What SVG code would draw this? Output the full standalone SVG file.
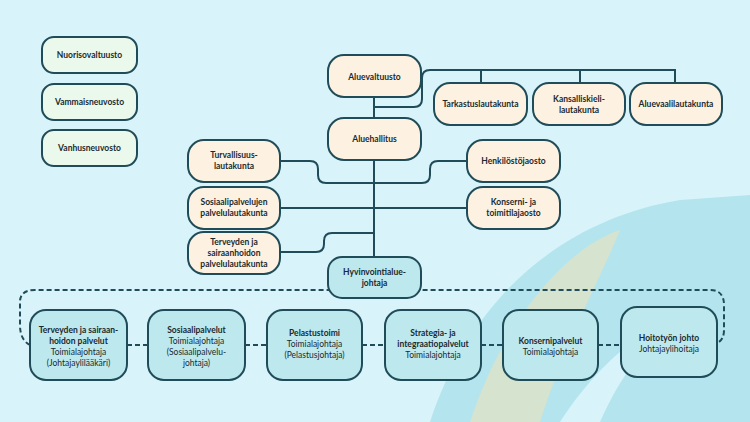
<svg xmlns="http://www.w3.org/2000/svg" width="750" height="422" viewBox="0 0 750 422">
<style>
.n{stroke:#1f4c58;stroke-width:2}
.c{fill:#fdf2e1}
.g{fill:#ebf9ec}
.b{fill:#bde8ee}
.t{font-family:Lato,"Liberation Sans",sans-serif;font-size:8.5px;fill:#1a2a30;text-anchor:middle}
.bd{font-weight:bold}
.l{fill:none;stroke:#1f4c58;stroke-width:2}
.d{fill:none;stroke:#1f4c58;stroke-width:2;stroke-dasharray:5 3}
</style>
<rect width="750" height="422" fill="#d8f4fa"/>
<path d="M430 422 C470 300 560 220 680 200 L750 195 L750 310 C690 300 620 330 560 422 Z" fill="#b4e5ee"/>
<path d="M600 422 C640 330 700 300 750 300 L750 422 Z" fill="#b4e5ee"/>
<path d="M470 422 C500 330 560 250 620 230 C600 280 570 330 540 422 Z" fill="#d9e2cb" opacity="0.9"/>
<g id="connectors">
<path class="l" d="M374 97 V257"/>
<path class="l" d="M374 107 H414 Q422 107 422 99 V78 Q422 70 430 70 H675 V83 M481 70 V83 M580 70 V83"/>
<path class="l" d="M280 161 H310 Q318 161 318 169 V175 Q318 183 326 183 H422 Q430 183 430 175 V169 Q430 161 438 161 H467"/>
<path class="l" d="M280 208 H467"/>
<path class="l" d="M280 252 H316 Q324 252 324 244 V241 Q324 233 332 233 H374"/>
<path class="d" d="M30 345 Q20 340 20 325 V302 Q20 290 35 290 H710 Q724 290 724 305 V330 Q724 340 717 343"/>
<path class="d" d="M127 345 H148 M245 345 H267 M362 345 H385 M481 345 H503 M598 345 H621"/>
</g>
<g id="nuorisovaltuusto"><rect class="n g" x="42" y="37" width="95" height="36" rx="12"/><text class="t bd" x="89.5" y="58">Nuorisovaltuusto</text></g>
<g id="vammaisneuvosto"><rect class="n g" x="42" y="84" width="95" height="36" rx="12"/><text class="t bd" x="89.5" y="105">Vammaisneuvosto</text></g>
<g id="vanhusneuvosto"><rect class="n g" x="42" y="130" width="95" height="36" rx="12"/><text class="t bd" x="89.5" y="151">Vanhusneuvosto</text></g>
<g id="aluevaltuusto"><rect class="n c" x="328" y="55" width="93" height="42" rx="16"/><text class="t bd" x="374.5" y="80">Aluevaltuusto</text></g>
<g id="tarkastus"><rect class="n c" x="434" y="83" width="93" height="42" rx="16"/><text class="t bd" x="480.5" y="107">Tarkastuslautakunta</text></g>
<g id="kansalliskieli"><rect class="n c" x="533" y="83" width="92" height="42" rx="16"/><text class="t bd" x="579" y="102">Kansalliskieli-</text><text class="t bd" x="579" y="113">lautakunta</text></g>
<g id="aluevaali"><rect class="n c" x="630" y="83" width="92" height="42" rx="16"/><text class="t bd" x="676" y="107">Aluevaalilautakunta</text></g>
<g id="aluehallitus"><rect class="n c" x="328" y="118" width="93" height="42" rx="16"/><text class="t bd" x="374.5" y="142">Aluehallitus</text></g>
<g id="turvallisuus"><rect class="n c" x="188" y="140" width="92" height="42" rx="16"/><text class="t bd" x="234" y="158">Turvallisuus-</text><text class="t bd" x="234" y="169">lautakunta</text></g>
<g id="henkilosto"><rect class="n c" x="467" y="140" width="93" height="42" rx="16"/><text class="t bd" x="513.5" y="164">Henkilöstöjaosto</text></g>
<g id="sosiaalilautakunta"><rect class="n c" x="188" y="187" width="92" height="42" rx="16"/><text class="t bd" x="234" y="205">Sosiaalipalvelujen</text><text class="t bd" x="234" y="216">palvelulautakunta</text></g>
<g id="konserni"><rect class="n c" x="467" y="187" width="93" height="42" rx="16"/><text class="t bd" x="513.5" y="205">Konserni- ja</text><text class="t bd" x="513.5" y="216">toimitilajaosto</text></g>
<g id="terveydenlautakunta"><rect class="n c" x="188" y="232" width="92" height="42" rx="16"/><text class="t bd" x="234" y="245">Terveyden ja</text><text class="t bd" x="234" y="256">sairaanhoidon</text><text class="t bd" x="234" y="267">palvelulautakunta</text></g>
<g id="hyvinvointi"><rect class="n b" x="328" y="257" width="93" height="41" rx="14"/><text class="t bd" x="374.5" y="275">Hyvinvointialue-</text><text class="t bd" x="374.5" y="286">johtaja</text></g>
<g id="terveys"><rect class="n b" x="30" y="310" width="97" height="70" rx="16"/><text class="t bd" x="78.5" y="333">Terveyden ja sairaan-</text><text class="t bd" x="78.5" y="344">hoidon palvelut</text><text class="t" x="78.5" y="355">Toimialajohtaja</text><text class="t" x="78.5" y="366">(Johtajaylilääkäri)</text></g>
<g id="sosiaali"><rect class="n b" x="148" y="310" width="97" height="70" rx="16"/><text class="t bd" x="196.5" y="333">Sosiaalipalvelut</text><text class="t" x="196.5" y="344">Toimialajohtaja</text><text class="t" x="196.5" y="355">(Sosiaalipalvelu-</text><text class="t" x="196.5" y="366">johtaja)</text></g>
<g id="pelastus"><rect class="n b" x="267" y="310" width="95" height="70" rx="16"/><text class="t bd" x="314.5" y="336">Pelastustoimi</text><text class="t" x="314.5" y="347">Toimialajohtaja</text><text class="t" x="314.5" y="358">(Pelastusjohtaja)</text></g>
<g id="strategia"><rect class="n b" x="385" y="310" width="96" height="70" rx="16"/><text class="t bd" x="433" y="336">Strategia- ja</text><text class="t bd" x="433" y="347">integraatiopalvelut</text><text class="t" x="433" y="358">Toimialajohtaja</text></g>
<g id="konsernipalvelut"><rect class="n b" x="503" y="310" width="95" height="70" rx="16"/><text class="t bd" x="550.5" y="344">Konsernipalvelut</text><text class="t" x="550.5" y="355">Toimialajohtaja</text></g>
<g id="hoitotyo"><rect class="n b" x="621" y="307" width="96" height="70" rx="16"/><text class="t bd" x="669" y="341">Hoitotyön johto</text><text class="t" x="669" y="352">Johtajaylihoitaja</text></g>
</svg>
